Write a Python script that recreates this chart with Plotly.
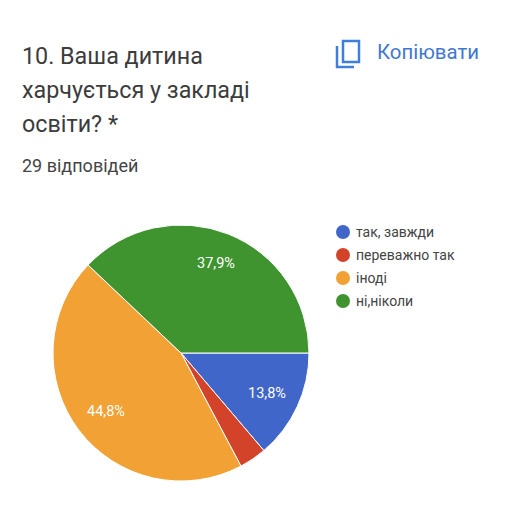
import math
import plotly.graph_objects as go

categories = ["так, завжди", "переважно так", "іноді", "ні,ніколи"]
values = [4, 1, 13, 11]
slice_labels = ["13,8%", "", "44,8%", "37,9%"]
colors = ["#3f66c8", "#d2432a", "#f2a134", "#3f9430"]
title_lines = ["10. Ваша дитина", "харчується у закладі", "освіти? *"]
subtitle = "29 відповідей"
copy_label = "Копіювати"

W, H = 516, 526
cx, cy, r = 181, 353, 128

def px(x): return x / W
def py(y): return 1 - y / H

fig = go.Figure()
fig.add_trace(go.Pie(
    labels=categories, values=values, sort=False, direction="clockwise", rotation=90,
    marker=dict(colors=colors, line=dict(color="white", width=1)),
    textinfo="none", hoverinfo="label+percent", showlegend=False,
    domain=dict(x=[px(cx - r), px(cx + r)], y=[py(cy + r), py(cy - r)]),
))

def note(text, x, y, size, color, anchor="left"):
    return dict(text=text, x=px(x), y=py(y), xref="paper", yref="paper", xanchor=anchor,
                yanchor="middle", showarrow=False, font=dict(family="Roboto", size=size, color=color),
                borderpad=0, borderwidth=0)

annotations = []
for line, y in zip(title_lines, [56, 90, 124]):
    annotations.append(note(line, 22, y, 23.3, "#3c3c3c"))
annotations.append(note(subtitle, 22, 166, 18, "#444444"))
annotations.append(note(copy_label, 377, 52.5, 20.4, "#3f78d4"))

# slice labels placed from the slice mid-angles
total = sum(values)
running = 0
for value, label in zip(values, slice_labels):
    mid = (90 + (running + value / 2) / total * 360) * math.pi / 180
    running += value
    if label:
        annotations.append(note(label, cx + 0.74 * r * math.sin(mid), cy - 0.75 * r * math.cos(mid),
                                14.5, "white", anchor="center"))

icon = "#3f7fdc"
shapes = [
    dict(type="rect", xref="paper", yref="paper", x0=px(343), x1=px(359), y0=py(41), y1=py(62),
         line=dict(color=icon, width=2.5)),
    dict(type="path", xref="paper", yref="paper",
         path=f"M {px(337)} {py(46)} L {px(337)} {py(67)} L {px(354)} {py(67)}",
         line=dict(color=icon, width=2.5)),
]

# legend rows
for i, (name, color) in enumerate(zip(categories, colors)):
    y = 232 + 23 * i
    shapes.append(dict(type="circle", xref="paper", yref="paper", x0=px(336), x1=px(350),
                       y0=py(y + 7), y1=py(y - 7), fillcolor=color, line=dict(width=0)))
    annotations.append(note(name, 356, y, 14, "#444444"))

fig.update_layout(
    width=W, height=H, margin=dict(l=0, r=0, t=0, b=0), paper_bgcolor="white",
    showlegend=False, annotations=annotations, shapes=shapes,
)
fig.write_html("out.html", post_script="document.body.style.margin='0';", config=dict(displayModeBar=False))
